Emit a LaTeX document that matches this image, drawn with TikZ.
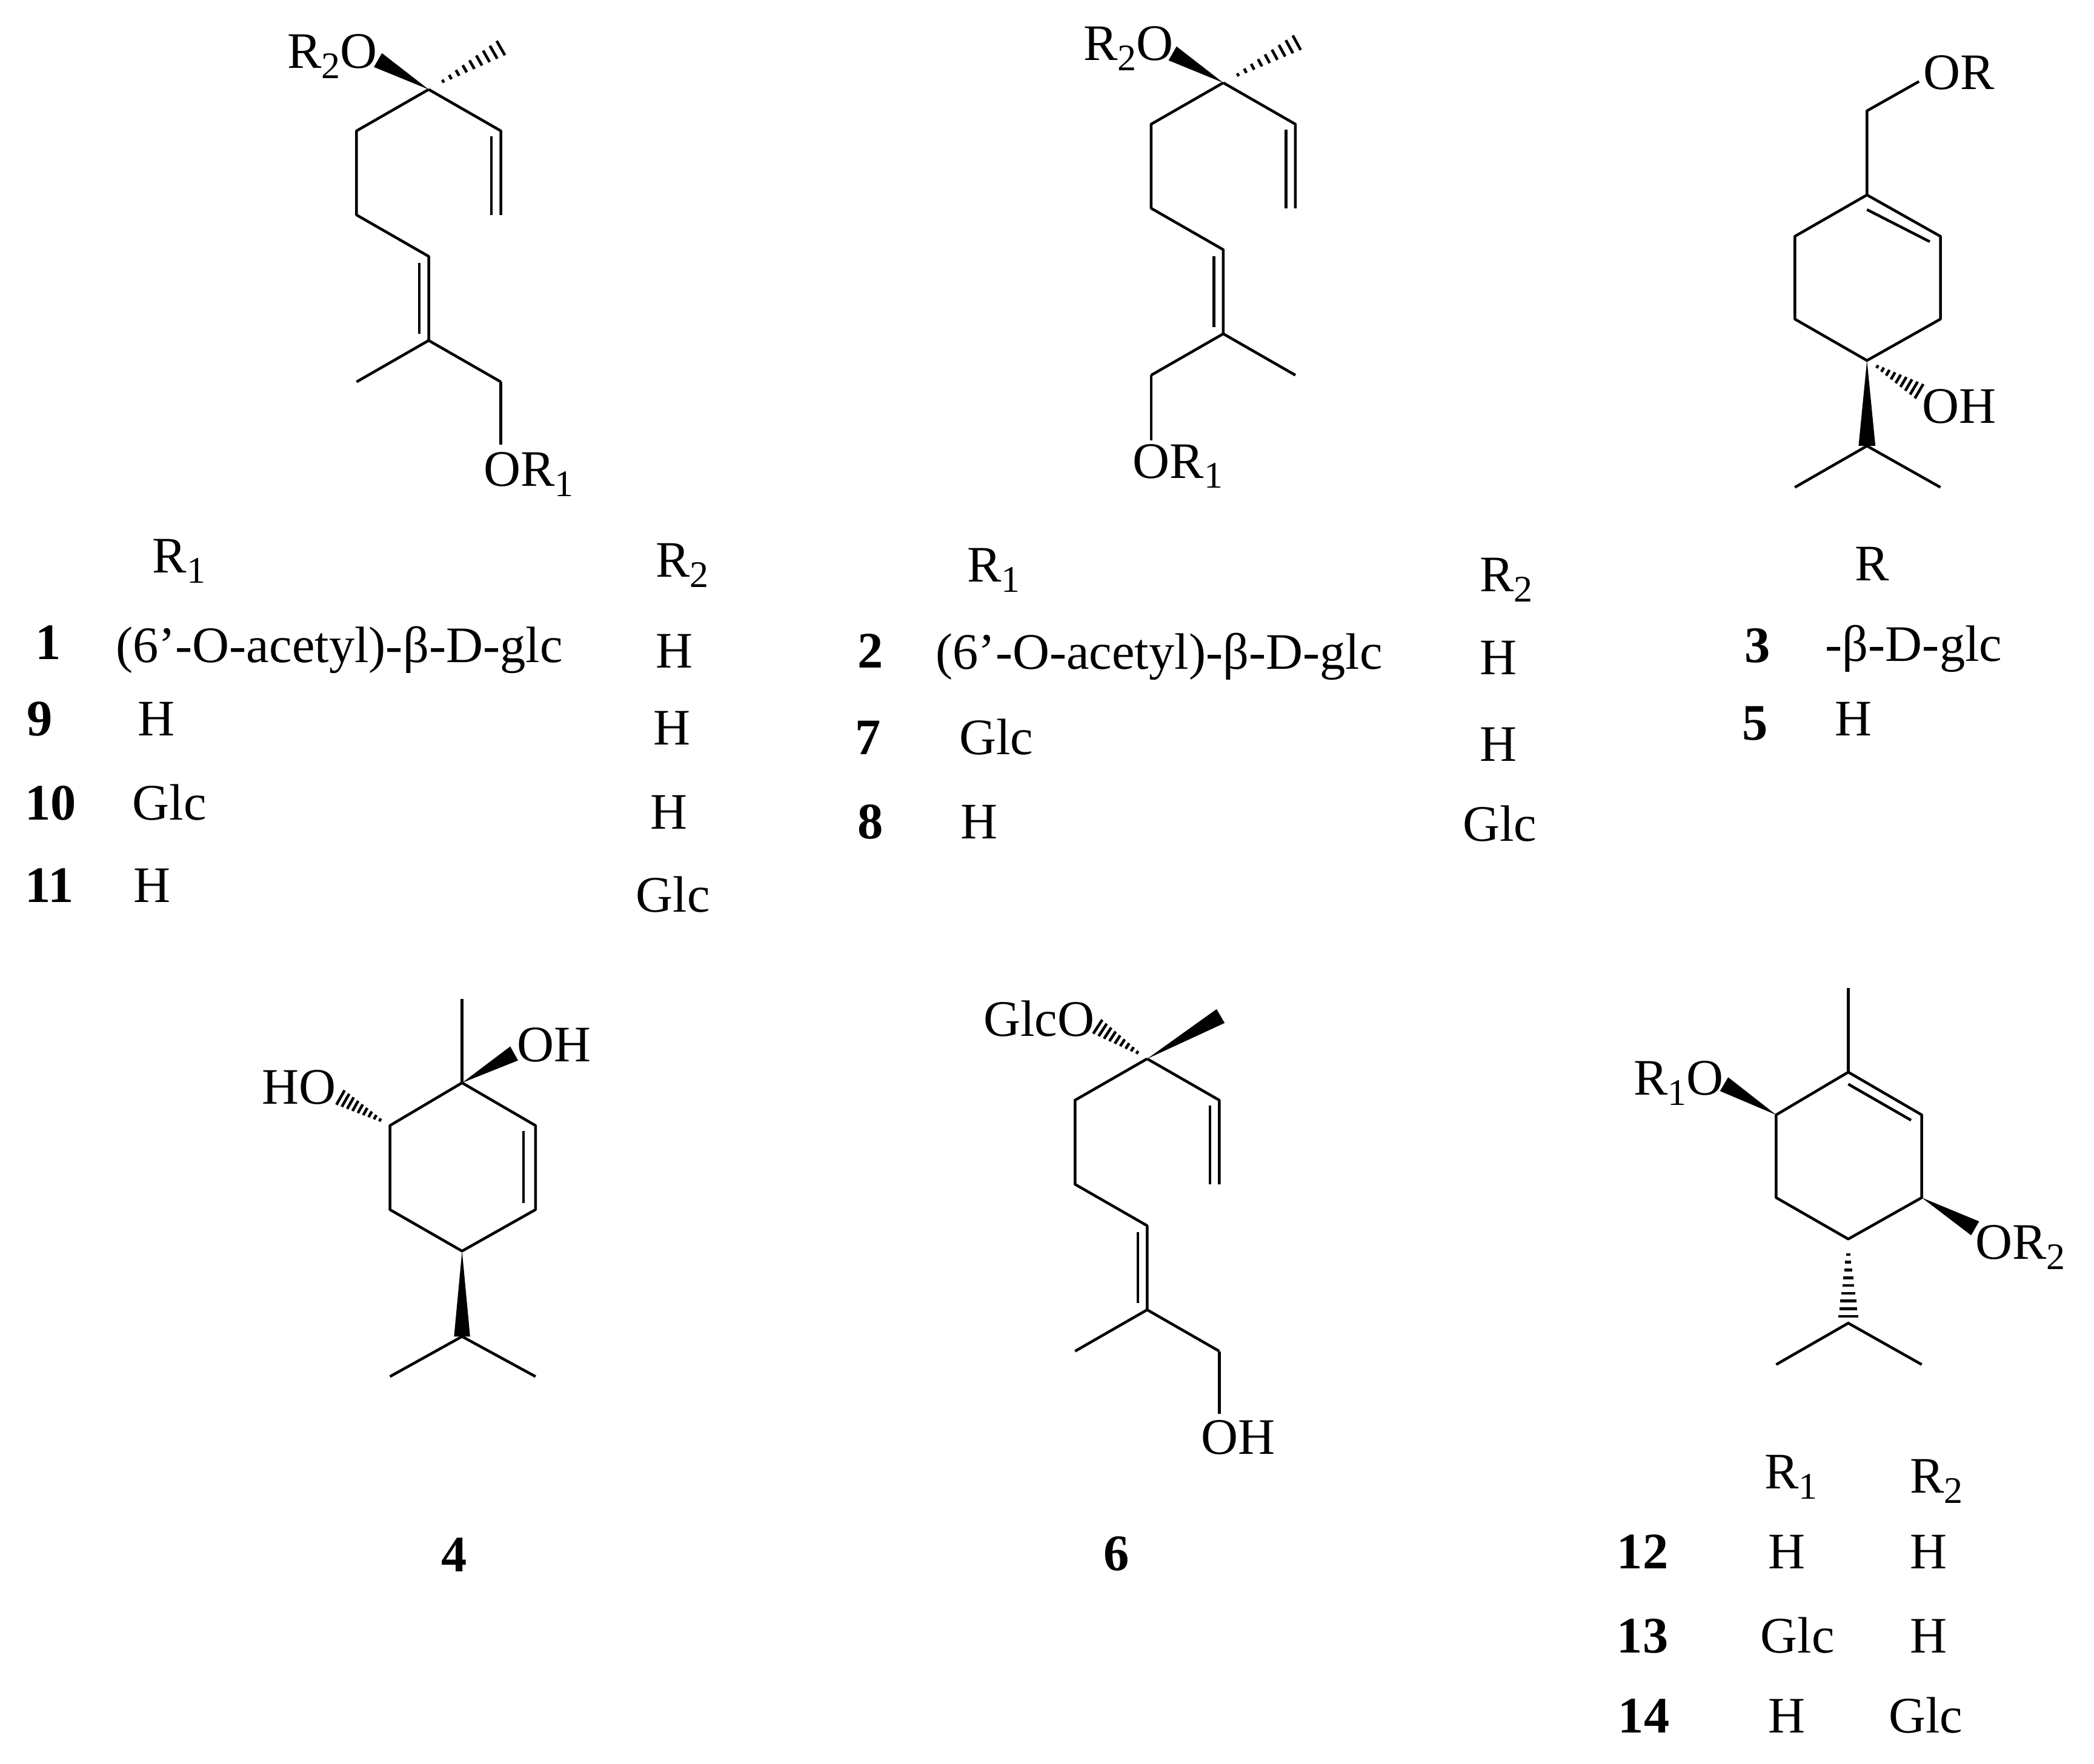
\documentclass[tikz,border=0pt]{standalone}
\usepackage{fontspec}
\setmainfont{Liberation Serif}
\usetikzlibrary{calc}
\tikzset{
 bond/.style={black, line width=.58pt},
 lab/.style={inner sep=0, anchor=base, font=\fontsize{10.9}{13}\selectfont},
 num/.style={lab, font=\fontsize{10.9}{13}\selectfont\bfseries},
}
\newcommand{\wedgebond}[3][.06cm]{
 \fill (#2) -- ($(#3)!#1!90:(#2)$) -- ($(#3)!#1!-90:(#2)$) -- cycle;
}
\newcommand{\hashbond}[3][.062cm]{
 \foreach \x in {.2,.3,.4,.5,.6,.7,.8,.9,1} {
  \coordinate (hp) at ($(#2)!\x!(#3)$);
  \draw[bond] ($(hp)!{\x*#1}!90:(#2)$) -- ($(hp)!{\x*#1}!-90:(#2)$);
 }
}
\newcommand{\subnum}[1]{\raisebox{-.2em}{\fontsize{8}{8}\selectfont #1}}
\newcommand{\Ra}{R\subnum{1}}
\newcommand{\Rb}{R\subnum{2}}
\begin{document}
\begin{tikzpicture}[x=.01cm, y=-.01cm]
\useasboundingbox (0,0) rectangle (1568,1321);
% the three open chains
\foreach \n/\cx/\cy in {a/321/67, b/916/62, f/859/793} {
 \coordinate (\n c) at (\cx,\cy);
 \coordinate (\n l1) at (\cx-54,\cy+31);
 \coordinate (\n l2) at (\cx-54,\cy+94);
 \coordinate (\n d1) at (\cx,\cy+125);
 \coordinate (\n d2) at (\cx,\cy+188);
 \coordinate (\n v1) at (\cx+54,\cy+31);
 \coordinate (\n v2) at (\cx+54,\cy+94);
 \coordinate (\n v3) at (\cx+47,\cy+35);
 \coordinate (\n v4) at (\cx+47,\cy+94);
 \coordinate (\n i1) at (\cx-7,\cy+130);
 \coordinate (\n i2) at (\cx-7,\cy+183);
 \coordinate (\n m) at (\cx-54,\cy+219);
 \coordinate (\n p) at (\cx+54,\cy+219);
 \draw[bond, line join=round] (\n c)--(\n l1)--(\n l2)--(\n d1)--(\n d2);
 \draw[bond, line join=round] (\n c)--(\n v1)--(\n v2);
 \draw[bond] (\n v3)--(\n v4);
 \draw[bond] (\n i1)--(\n i2);
 \draw[bond] (\n m)--(\n d2)--(\n p);
}
% 1
\coordinate (ao) at (283,45);
\coordinate (ah) at (375,36);
\coordinate (ae) at (375,333);
\wedgebond{ac}{ao}
\hashbond{ac}{ah}
\draw[bond] (ap)--(ae);
\node[lab] (alab1) at (249,51) {\Rb O};
\node[lab] (alab2) at (396,364) {O\Ra};
% 2
\coordinate (bo) at (878,40);
\coordinate (bh) at (971,32);
\coordinate (be) at (862,330);
\wedgebond{bc}{bo}
\hashbond{bc}{bh}
\draw[bond] (bm)--(be);
\node[lab] (blab1) at (845,45) {\Rb O};
\node[lab] (blab2) at (882,358) {O\Ra};
% 6
\coordinate (fo) at (822,769);
\coordinate (fh) at (914,761);
\coordinate (fe) at (913,1059);
\wedgebond{fc}{fh}
\hashbond{fc}{fo}
\draw[bond] (fp)--(fe);
\node[lab] (flab1) at (778,776) {GlcO};
\node[lab] (flab2) at (927,1089) {OH};
% 3
\coordinate (c1) at (1398,146);
\coordinate (c2) at (1453,177);
\coordinate (c3) at (1453,239);
\coordinate (c4) at (1398,270);
\coordinate (c5) at (1344,239);
\coordinate (c6) at (1344,177);
\coordinate (c7) at (1398,83);
\coordinate (c8) at (1437,61);
\coordinate (c9) at (1398,334);
\coordinate (c10) at (1344,365);
\coordinate (c11) at (1453,365);
\coordinate (c12) at (1398,157);
\coordinate (c13) at (1445,181);
\coordinate (c14) at (1437,293);
\draw[bond, line join=round] (c1)--(c2)--(c3)--(c4)--(c5)--(c6)--cycle;
\draw[bond] (c12)--(c13);
\draw[bond, line join=round] (c1)--(c7)--(c8);
\draw[bond] (c10)--(c9)--(c11);
\wedgebond[.063cm]{c4}{c9}
\hashbond{c4}{c14}
\node[lab] (clab1) at (1467,67) {OR};
\node[lab] (clab2) at (1467,317) {OH};
% 4
\coordinate (d1) at (346,811);
\coordinate (d2) at (401,843);
\coordinate (d3) at (401,906);
\coordinate (d4) at (346,937);
\coordinate (d5) at (292,906);
\coordinate (d6) at (292,843);
\coordinate (d7) at (346,748);
\coordinate (d8) at (385,789);
\coordinate (d9) at (255,822);
\coordinate (d10) at (346,1001);
\coordinate (d11) at (292,1031);
\coordinate (d12) at (401,1031);
\coordinate (d13) at (392,847);
\coordinate (d14) at (392,901);
\draw[bond, line join=round] (d1)--(d2)--(d3)--(d4)--(d5)--(d6)--cycle;
\draw[bond] (d13)--(d14);
\draw[bond] (d1)--(d7);
\draw[bond] (d11)--(d10)--(d12);
\wedgebond{d1}{d8}
\wedgebond{d4}{d10}
\hashbond{d6}{d9}
\node[lab] (dlab1) at (415,795) {OH};
\node[lab] (dlab2) at (224,827) {HO};
% 12
\coordinate (e1) at (1384,803);
\coordinate (e2) at (1439,835);
\coordinate (e3) at (1439,897);
\coordinate (e4) at (1384,928);
\coordinate (e5) at (1330,897);
\coordinate (e6) at (1330,835);
\coordinate (e7) at (1384,740);
\coordinate (e8) at (1291,812);
\coordinate (e9) at (1479,920);
\coordinate (e10) at (1384,986);
\coordinate (e11) at (1384,991);
\coordinate (e12) at (1330,1022);
\coordinate (e13) at (1439,1022);
\coordinate (e14) at (1384,812);
\coordinate (e15) at (1431,839);
\draw[bond, line join=round] (e1)--(e2)--(e3)--(e4)--(e5)--(e6)--cycle;
\draw[bond] (e14)--(e15);
\draw[bond] (e1)--(e7);
\draw[bond] (e12)--(e11)--(e13);
\wedgebond{e6}{e8}
\wedgebond{e3}{e9}
\hashbond[.075cm]{e4}{e10}
\node[lab] (elab1) at (1257,820) {\Ra O};
\node[lab] (elab2) at (1513,943) {O\Rb};
% tables
\foreach \n/\x/\y/\t in {
 t1/134/429/\Ra, t2/511/432/\Rb,
 t3/254/496/(6’-O-acetyl)-β-D-glc, t4/505/500/H,
 t5/117/551/H, t6/503/558/H,
 t7/127/614/Glc, t8/501/621/H,
 t9/114/676/H, t10/504/683/Glc,
 u1/744/436/\Ra, u2/1128/443/\Rb,
 u3/868/501/(6’-O-acetyl)-β-D-glc, u4/1122/505/H,
 u5/746/565/Glc, u6/1122/570/H,
 u7/733/628/H, u8/1123/630/Glc,
 v1/1402/435/R, v2/1433/495/-β-D-glc, v3/1388/551/H,
 w1/1341/1115/\Ra, w2/1450/1118/\Rb,
 w3/1338/1175/H, w4/1444/1175/H,
 w5/1346/1238/Glc, w6/1444/1238/H,
 w7/1338/1298/H, w8/1442/1298/Glc} {
 \node[lab] (\n) at (\x,\y) {\t};
}
\foreach \n/\x/\y/\t in {
 n1/36/494/1, n9/30/551/9, n10/38/614/10, n11/37/676/11,
 n2/652/500/2, n7/650/565/7, n8/652/628/8,
 n3/1316/496/3, n5/1314/554/5,
 n4/340/1177/4, n6/836/1176/6,
 n12/1230/1175/12, n13/1230/1238/13, n14/1231/1298/14} {
 \node[num] (\n) at (\x,\y) {\t};
}
\end{tikzpicture}
\end{document}
